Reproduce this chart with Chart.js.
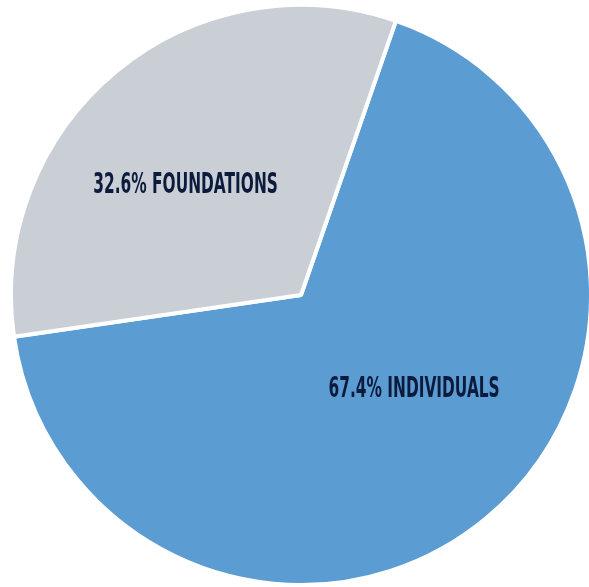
<!DOCTYPE html>
<html><head><meta charset="utf-8">
<script src="https://cdn.jsdelivr.net/npm/chart.js@4.4.0/dist/chart.umd.min.js"></script>
<style>html,body{margin:0;padding:0;background:#fff;}#wrap{width:589px;height:587px;}</style>
</head><body><div id="wrap"><canvas id="c"></canvas></div>
<script>
const categories = ["INDIVIDUALS", "FOUNDATIONS"];
const values = [67.4, 32.6];
const labelTexts = ["67.4% INDIVIDUALS", "32.6% FOUNDATIONS"];
const colors = ["#5b9cd3", "#c9cfd5"];
// label anchor offsets as fraction of radius (style)
const labelOffsets = [[0.39, 0.325], [-0.398, -0.376]];

const labelPlugin = {
  id: 'sliceLabels',
  afterDatasetsDraw(chart) {
    const ctx = chart.ctx;
    const meta = chart.getDatasetMeta(0);
    meta.data.forEach((arc, i) => {
      const r = arc.outerRadius;
      const x = arc.x + labelOffsets[i][0] * r;
      const y = arc.y + labelOffsets[i][1] * r;
      ctx.save();
      ctx.translate(x, y);
      ctx.scale(0.55, 1);
      ctx.font = 'bold 28px "DejaVu Sans", sans-serif';
      ctx.fillStyle = '#0c1a3c';
      ctx.textAlign = 'center';
      ctx.textBaseline = 'middle';
      ctx.fillText(labelTexts[i], 0, 0);
      ctx.restore();
    });
  }
};

new Chart(document.getElementById('c'), {
  type: 'pie',
  data: {
    labels: categories,
    datasets: [{
      data: values,
      backgroundColor: colors,
      borderColor: '#ffffff',
      borderWidth: 4,
      hoverOffset: 0
    }]
  },
  options: {
    responsive: true,
    maintainAspectRatio: false,
    animation: false,
    rotation: 19.1,
    radius: 290,
    layout: { padding: { left: 13, right: 0, top: 3, bottom: 0 } },
    plugins: { legend: { display: false }, tooltip: { enabled: false } }
  },
  plugins: [labelPlugin]
});
</script></body></html>
